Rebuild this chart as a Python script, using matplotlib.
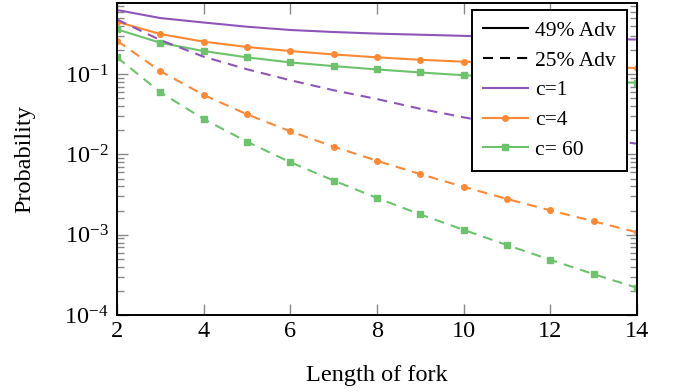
import matplotlib
matplotlib.use("Agg")
import matplotlib.pyplot as plt
from matplotlib.lines import Line2D

plt.rcParams['font.family'] = ['Liberation Serif', 'DejaVu Serif']
plt.rcParams['mathtext.fontset'] = 'custom'
plt.rcParams['mathtext.rm'] = 'Liberation Serif'
plt.rcParams['mathtext.it'] = 'Liberation Serif:italic'

lengths = [2, 3, 4, 5, 6, 7, 8, 9, 10, 11, 12, 13, 14]

# 49% adversary (solid)
c1_49 = [0.63, 0.50, 0.44, 0.39, 0.355, 0.335, 0.32, 0.31, 0.30, 0.29, 0.28, 0.275, 0.27]
c4_49 = [0.45, 0.316, 0.254, 0.218, 0.194, 0.176, 0.162, 0.151, 0.143, 0.136, 0.130, 0.124, 0.119]
c60_49 = [0.362, 0.246, 0.194, 0.162, 0.140, 0.126, 0.1145, 0.105, 0.097, 0.092, 0.087, 0.082, 0.078]

# 25% adversary (dashed)
c1_25 = [0.48, 0.266, 0.165, 0.115, 0.084, 0.063, 0.049, 0.037, 0.029, 0.023, 0.019, 0.016, 0.0136]
c4_25 = [0.261, 0.109, 0.0551, 0.0316, 0.0194, 0.0125, 0.00834, 0.00568, 0.00395, 0.00279, 0.00201, 0.00147, 0.00107]
c60_25 = [0.162, 0.0596, 0.0276, 0.0144, 0.0080, 0.00473, 0.00287, 0.00179, 0.00115, 0.000743, 0.000487, 0.000323, 0.000218]

x_ticks = [2, 4, 6, 8, 10, 12, 14]
y_ticks = [1e-4, 1e-3, 1e-2, 1e-1]
y_ticklabels = [r'$10^{-4}$', r'$10^{-3}$', r'$10^{-2}$', r'$10^{-1}$']

purple = '#8E55B9'
orange = '#FF8833'
green = '#6CC36C'

fs = 17.5
lfs = 15.5

fig = plt.figure(figsize=(6.73, 3.92), dpi=100)
ax = fig.add_axes([117/673, 1-315/392, (637-117)/673, (315-3)/392])

lw = 1.5
dash = (0, (4.8, 3.4))
ax.plot(lengths, c1_49, color=purple, lw=lw)
ax.plot(lengths, c4_49, color=orange, lw=lw, marker='o', ms=4)
ax.plot(lengths, c60_49, color=green, lw=lw, marker='s', ms=3.8)
ax.plot(lengths, c1_25, color=purple, lw=lw, ls=dash)
ax.plot(lengths, c4_25, color=orange, lw=lw, ls=dash, marker='o', ms=4)
ax.plot(lengths, c60_25, color=green, lw=lw, ls=dash, marker='s', ms=3.8)

ax.set_yscale('log')
ax.set_xlim(2, 14)
ax.set_ylim(1e-4, 0.77)
ax.set_xticks(x_ticks)
ax.set_xticklabels([str(t) for t in x_ticks])
ax.set_yticks(y_ticks)
ax.set_yticklabels(y_ticklabels)

for s in ax.spines.values():
    s.set_linewidth(1.4)
    s.set_color('black')

ax.tick_params(axis='both', which='major', direction='in', length=8, width=1,
               color='#888888', labelsize=fs, top=True, right=True)
ax.tick_params(axis='x', which='major', pad=4)
ax.tick_params(axis='y', which='major', pad=6)
ax.tick_params(axis='y', which='minor', direction='in', length=5, width=1,
               color='#888888', right=True)
ax.tick_params(axis='x', which='minor', bottom=False, top=False)

ax.set_xlabel('Length of fork', fontsize=fs)
ax.set_ylabel('Probability', fontsize=fs)
ax.xaxis.set_label_coords(0.5, (315 - 375) / 312)
ax.yaxis.set_label_coords((25 - 117) / 520, 0.5)
ax.xaxis.label.set_va('center')
ax.yaxis.label.set_va('center')

handles = [
    Line2D([], [], color='black', lw=lw),
    Line2D([], [], color='black', lw=lw, ls=dash),
    Line2D([], [], color=purple, lw=lw),
    Line2D([], [], color=orange, lw=lw, marker='o', ms=4),
    Line2D([], [], color=green, lw=lw, marker='s', ms=3.8),
]
labels = ['49% Adv', '25% Adv', 'c=1', 'c=4', 'c= 60']
leg = ax.legend(handles, labels, loc='upper right',
                bbox_to_anchor=((627 - 117) / 520, (315 - 10) / 312),
                borderaxespad=0, fontsize=lfs, frameon=True,
                fancybox=False, edgecolor='black', framealpha=1,
                handlelength=2.1, labelspacing=0.45, borderpad=0.5,
                handletextpad=0.35)
leg.get_frame().set_linewidth(1.4)

fig.savefig('out.png', dpi=100)
